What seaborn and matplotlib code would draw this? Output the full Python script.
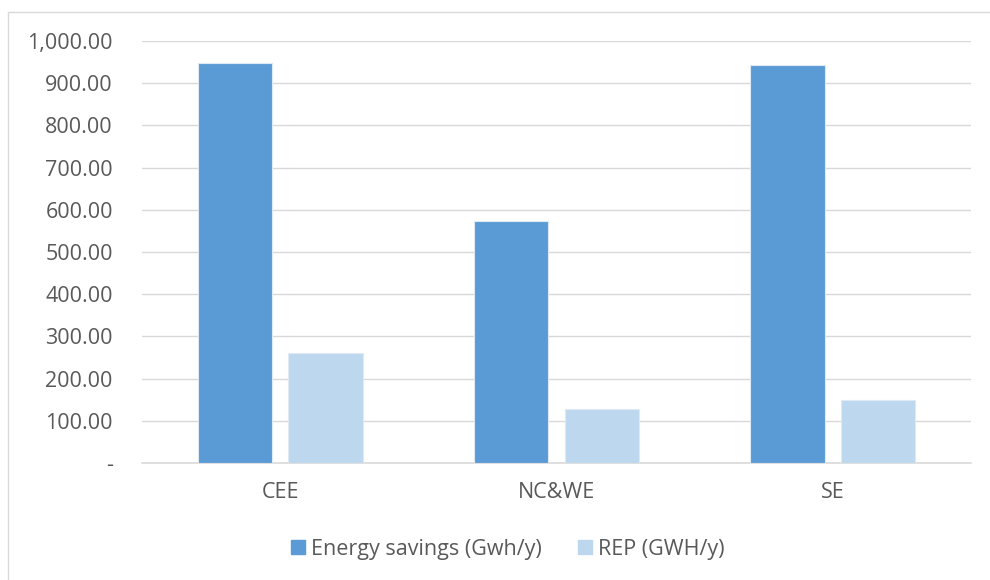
import matplotlib
matplotlib.use("Agg")
import matplotlib.pyplot as plt
import matplotlib.patches as mpatches
from matplotlib.ticker import FuncFormatter
import seaborn as sns
import pandas as pd

regions = ["CEE", "NC&WE", "SE"]
energy_savings = [947, 573, 944]
rep = [260, 128, 149]
series_names = ["Energy savings (Gwh/y)", "REP (GWH/y)"]
colors = ["#5B9BD5", "#BDD7EE"]
y_ticks = [0, 100, 200, 300, 400, 500, 600, 700, 800, 900, 1000]

df = pd.DataFrame({
    "region": regions * 2,
    "value": energy_savings + rep,
    "series": [series_names[0]] * len(regions) + [series_names[1]] * len(regions),
})

sns.set_theme(style="white")
plt.rcParams["font.family"] = ["Open Sans", "DejaVu Sans"]
text_color = "#595959"
fs = 15.5

fig = plt.figure(figsize=(9.9, 5.8), dpi=100)
ax = fig.add_axes([142 / 990, 117 / 580, 829 / 990, 422 / 580])

sns.barplot(data=df, x="region", y="value", hue="series", order=regions,
            hue_order=series_names, palette=colors, saturation=1,
            width=0.655, gap=0.18, edgecolor="#DDEAF6", linewidth=0.8,
            ax=ax, legend=False, zorder=3)

ax.set_ylim(0, 1000)
ax.set_xlim(-0.5, len(regions) - 0.5)
ax.set_yticks(y_ticks)
ax.yaxis.set_major_formatter(FuncFormatter(
    lambda v, p: "-" if v == 0 else f"{v:,.2f}"))
ax.grid(axis="y", color="#D9D9D9", linewidth=1.0, zorder=0)
ax.grid(axis="x", visible=False)
for side in ["top", "right", "left"]:
    ax.spines[side].set_visible(False)
ax.spines["bottom"].set_color("#D9D9D9")
ax.spines["bottom"].set_linewidth(1.2)
ax.tick_params(axis="y", length=0, pad=21, labelsize=fs, labelcolor=text_color)
ax.tick_params(axis="x", length=0, pad=14, labelsize=fs, labelcolor=text_color)
ax.set_xlabel("")
ax.set_ylabel("")

handles = [mpatches.Patch(color=c, label=n) for c, n in zip(colors, series_names)]
leg = fig.legend(handles=handles, loc="center", bbox_to_anchor=(508 / 990, 1 - 549 / 580),
                 ncol=2, frameon=False, fontsize=fs, handlelength=0.65,
                 handleheight=0.65, handletextpad=0.28, columnspacing=1.7)
for t in leg.get_texts():
    t.set_color(text_color)

# chart area border
fig.add_artist(mpatches.Rectangle((8 / 990, -0.1), 1.1, 1 - 12 / 580 + 0.1,
                                  transform=fig.transFigure, fill=False,
                                  edgecolor="#D9D9D9", linewidth=1.0))

fig.savefig("out.png", dpi=100, facecolor="white")
